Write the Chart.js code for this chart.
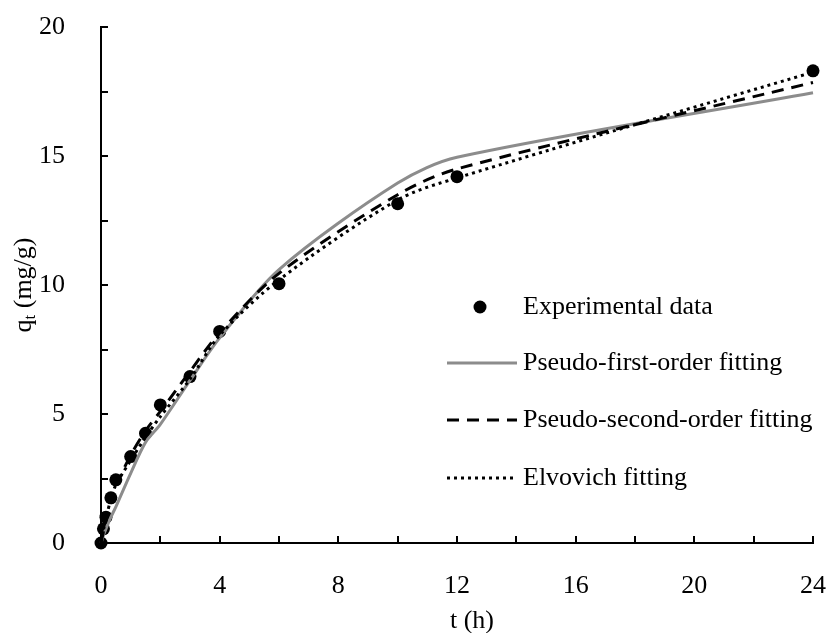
<!DOCTYPE html>
<html>
<head>
<meta charset="utf-8">
<script src="https://cdn.jsdelivr.net/npm/chart.js@4/dist/chart.umd.min.js"></script>
<style>
  html, body { margin: 0; padding: 0; background: #fff; }
  #wrap { width: 833px; height: 633px; }
</style>
</head>
<body>
<div id="wrap"><canvas id="kinetics"></canvas></div>
<script>
// contact time (h) and adsorbed amount (mg/g)
const times = [0, 0.083, 0.167, 0.333, 0.5, 1, 1.5, 2, 3, 4, 6, 10, 12, 24];
const qExp = [0, 0.55, 1.0, 1.75, 2.45, 3.35, 4.25, 5.35, 6.45, 8.2, 10.05, 13.15, 14.2, 18.3];
const qPFO = [0, 0.3, 0.55, 1.0, 1.4, 2.7, 3.9, 4.6, 6.3, 7.95, 10.6, 13.95, 14.95, 17.45];
const qPSO = [0, 0.45, 0.85, 1.6, 2.2, 3.4, 4.35, 5.1, 6.65, 8.15, 10.45, 13.5, 14.5, 17.85];
const qElovich = [0, 0.5, 0.95, 1.7, 2.25, 3.2, 4.1, 4.9, 6.35, 8.05, 10.2, 13.3, 14.15, 18.25];

const xTicks = [0, 4, 8, 12, 16, 20, 24];
const yTicks = [0, 5, 10, 15, 20];
const legendLabels = ['Experimental data', 'Pseudo-first-order fitting', 'Pseudo-second-order fitting', 'Elvovich fitting'];

const FONT = "'Liberation Serif', 'Times New Roman', serif";

function pts(ys) {
    return times.map((t, i) => ({ x: t, y: ys[i] }));
}

// inside tick marks, every 2 h on x and every 2.5 on y
const tickMarks = {
    id: 'tickMarks',
    afterDraw(chart) {
        const { ctx, chartArea: a, scales: { x, y } } = chart;
        ctx.save();
        ctx.strokeStyle = '#000';
        ctx.lineWidth = 2;
        ctx.beginPath();
        for (let v = 0; v <= 24; v += 2) {
            const px = Math.round(x.getPixelForValue(v));
            ctx.moveTo(px, a.bottom);
            ctx.lineTo(px, a.bottom - 7);
        }
        for (let v = 0; v <= 20; v += 2.5) {
            const py = Math.round(y.getPixelForValue(v));
            ctx.moveTo(a.left, py);
            ctx.lineTo(a.left + 7, py);
        }
        ctx.stroke();
        ctx.restore();
    }
};

// axis titles (y has a subscript) and the legend box inside the plot
const annotations = {
    id: 'annotations',
    afterDraw(chart) {
        const { ctx, chartArea: a } = chart;
        ctx.save();
        ctx.fillStyle = '#000';
        ctx.font = '26px ' + FONT;
        ctx.textBaseline = 'middle';
        ctx.textAlign = 'center';
        ctx.fillText('t (h)', 472, 621);

        // y title rotated
        ctx.translate(24, (a.top + a.bottom) / 2);
        ctx.rotate(-Math.PI / 2);
        ctx.textAlign = 'left';
        ctx.font = '26px ' + FONT;
        const wq = ctx.measureText('q').width;
        ctx.font = '17px ' + FONT;
        const wt = ctx.measureText('t').width;
        ctx.font = '26px ' + FONT;
        const wr = ctx.measureText(' (mg/g)').width;
        let sx = -(wq + wt + wr) / 2;
        ctx.fillText('q', sx, 0);
        ctx.font = '17px ' + FONT;
        ctx.fillText('t', sx + wq, 7);
        ctx.font = '26px ' + FONT;
        ctx.fillText(' (mg/g)', sx + wq + wt, 0);
        ctx.restore();

        // legend
        const ds = chart.data.datasets;
        const rowY = [307, 363, 420, 478];
        const x0 = 447, x1 = 517, tx = 523;
        ctx.save();
        ctx.font = '26px ' + FONT;
        ctx.textBaseline = 'middle';
        ctx.textAlign = 'left';
        ds.forEach((d, i) => {
            const yy = rowY[i];
            if (i === 0) {
                ctx.fillStyle = d.pointBackgroundColor;
                ctx.beginPath();
                ctx.arc(480, yy, d.pointRadius, 0, Math.PI * 2);
                ctx.fill();
            } else {
                ctx.strokeStyle = d.borderColor;
                ctx.lineWidth = d.borderWidth;
                ctx.setLineDash(d.borderDash || []);
                ctx.beginPath();
                ctx.moveTo(x0, yy);
                ctx.lineTo(x1, yy);
                ctx.stroke();
                ctx.setLineDash([]);
            }
            ctx.fillStyle = '#000';
            ctx.fillText(legendLabels[i], tx, yy);
        });
        ctx.restore();
    }
};

new Chart(document.getElementById('kinetics'), {
    type: 'scatter',
    data: {
        datasets: [
            {
                label: legendLabels[0],
                data: pts(qExp),
                pointRadius: 6.5,
                pointBackgroundColor: '#000',
                pointBorderWidth: 0,
                showLine: false,
                clip: false,
                order: 10
            },
            {
                label: legendLabels[1],
                data: pts(qPFO),
                showLine: true,
                borderColor: '#8c8c8c',
                borderWidth: 3,
                pointRadius: 0,
                tension: 0.3,
                clip: false,
                order: 3
            },
            {
                label: legendLabels[2],
                data: pts(qPSO),
                showLine: true,
                borderColor: '#000',
                borderWidth: 3,
                borderDash: [12, 8],
                pointRadius: 0,
                tension: 0.3,
                clip: false,
                order: 2
            },
            {
                label: legendLabels[3],
                data: pts(qElovich),
                showLine: true,
                borderColor: '#000',
                borderWidth: 3,
                borderDash: [3, 4],
                pointRadius: 0,
                tension: 0.3,
                clip: false,
                order: 1
            }
        ]
    },
    options: {
        responsive: true,
        maintainAspectRatio: false,
        animation: false,
        layout: { padding: { top: 27, right: 20, left: 0, bottom: 0 } },
        plugins: {
            legend: { display: false },
            tooltip: { enabled: false }
        },
        scales: {
            x: {
                type: 'linear',
                min: 0,
                max: 24,
                afterFit(scale) {
                    scale.height = 90;
                    scale.paddingLeft = 0;
                    scale.paddingRight = 0;
                },
                afterBuildTicks(scale) { scale.ticks = xTicks.map(v => ({ value: v })); },
                grid: { display: false },
                border: { display: true, color: '#000', width: 2 },
                ticks: {
                    color: '#000',
                    padding: 20,
                    maxRotation: 0,
                    font: { size: 26, family: FONT }
                }
            },
            y: {
                type: 'linear',
                min: 0,
                max: 20,
                afterFit(scale) {
                    scale.width = 101;
                    scale.paddingTop = 0;
                    scale.paddingBottom = 0;
                },
                afterBuildTicks(scale) { scale.ticks = yTicks.map(v => ({ value: v })); },
                grid: { display: false },
                border: { display: true, color: '#000', width: 2 },
                ticks: {
                    color: '#000',
                    padding: 28,
                    font: { size: 26, family: FONT }
                }
            }
        }
    },
    plugins: [tickMarks, annotations]
});
</script>
</body>
</html>
